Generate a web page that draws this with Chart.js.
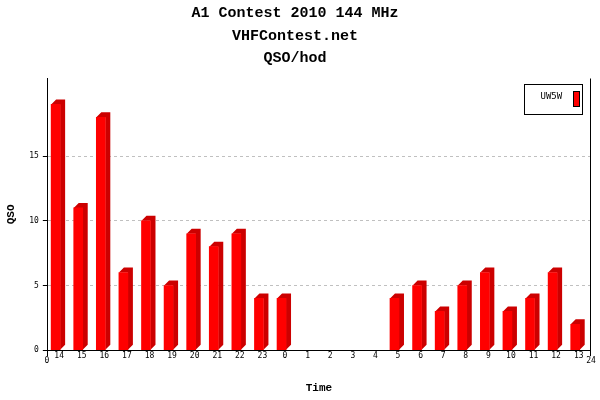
<!DOCTYPE html>
<html>
<head>
<meta charset="utf-8">
<script src="https://cdn.jsdelivr.net/npm/chart.js@4"></script>
<style>
  html, body { margin: 0; padding: 0; background: #fff; }
  #wrap { width: 600px; height: 400px; }
</style>
</head>
<body>
<div id="wrap"><canvas id="myChart" width="600" height="400"></canvas></div>
<script>
const titleLines = ['A1 Contest 2010 144 MHz', 'VHFContest.net', 'QSO/hod'];
const hours = ['14', '15', '16', '17', '18', '19', '20', '21', '22', '23', '0', '1',
               '2', '3', '4', '5', '6', '7', '8', '9', '10', '11', '12', '13'];
const qso = [19, 11, 18, 6, 10, 5, 9, 8, 9, 4, 4, 0, 0, 0, 0, 4, 5, 3, 5, 6, 3, 4, 6, 2];
const yTicks = [0, 5, 10, 15];
const edgeLabels = ['0', '24'];
const seriesName = 'UW5W';

const FONT = 'Liberation Mono';
const SMALL = 'DejaVu Sans Mono';
const frontColor = '#ff0000';
const sideColor = '#cc0000';
const depth = 5;
const shiftX = -3.5;

// side + top faces of the 3d bars, drawn behind the fronts
const bars3d = {
  id: 'bars3d',
  beforeDatasetsDraw(chart) {
    const ctx = chart.ctx;
    ctx.save();
    ctx.translate(shiftX, 0);
    chart.getDatasetMeta(0).data.forEach((bar, i) => {
      if (!qso[i]) return;
      const p = bar.getProps(['x', 'y', 'base', 'width'], true);
      const l = p.x - p.width / 2, r = p.x + p.width / 2;
      ctx.fillStyle = sideColor;
      ctx.beginPath();
      ctx.moveTo(l, p.y);
      ctx.lineTo(l + depth, p.y - depth);
      ctx.lineTo(r + depth, p.y - depth);
      ctx.lineTo(r + depth, p.base - depth);
      ctx.lineTo(r, p.base);
      ctx.lineTo(r, p.y);
      ctx.closePath();
      ctx.fill();
    });
  },
  afterDatasetsDraw(chart) {
    chart.ctx.restore();
  }
};

// right frame line, end labels of the time axis and the boxed legend
const frame = {
  id: 'frame',
  afterDraw(chart) {
    const ctx = chart.ctx;
    const a = chart.chartArea;
    ctx.save();
    ctx.strokeStyle = '#000';
    ctx.lineWidth = 1;
    ctx.beginPath();
    ctx.moveTo(Math.round(a.right) + 0.5, a.top);
    ctx.lineTo(Math.round(a.right) + 0.5, a.bottom + 6);
    ctx.moveTo(Math.round(a.left) - 0.5, a.bottom);
    ctx.lineTo(Math.round(a.left) - 0.5, a.bottom + 6);
    ctx.stroke();

    ctx.fillStyle = '#000';
    ctx.font = '8px "' + SMALL + '"';
    ctx.textAlign = 'center';
    ctx.textBaseline = 'middle';
    ctx.fillText(edgeLabels[0], a.left - 1, a.bottom + 11);
    ctx.fillText(edgeLabels[1], a.right + 1, a.bottom + 11);

    // legend
    const bx = Math.round(a.right) - 65.5, by = Math.round(a.top) + 5.5, bw = 58, bh = 30;
    ctx.fillStyle = '#fff';
    ctx.fillRect(bx, by, bw, bh);
    ctx.strokeRect(bx, by, bw, bh);
    ctx.fillStyle = '#000';
    ctx.font = '9px "' + SMALL + '"';
    ctx.textAlign = 'left';
    ctx.fillText(seriesName, bx + 16, by + 12);
    ctx.fillStyle = frontColor;
    ctx.fillRect(bx + 49, by + 7, 6, 15);
    ctx.strokeRect(bx + 49, by + 7, 6, 15);
    ctx.restore();
  }
};

const ctx = document.getElementById('myChart');
new Chart(ctx, {
  type: 'bar',
  data: {
    labels: hours,
    datasets: [{
      label: seriesName,
      data: qso,
      backgroundColor: (c) => c.raw ? frontColor : 'rgba(0,0,0,0)',
      borderWidth: 0,
      barThickness: 9
    }]
  },
  options: {
    responsive: false,
    animation: false,
    devicePixelRatio: 1,
    layout: { padding: { left: 0, right: 10, top: 0, bottom: 0 } },
    plugins: {
      legend: { display: false },
      tooltip: { enabled: false },
      title: {
        display: true,
        text: titleLines,
        color: '#000',
        font: { family: FONT, size: 15, weight: 'bold', lineHeight: 1.5 },
        padding: { top: 2, bottom: 9 }
      }
    },
    scales: {
      x: {
        grid: { display: false, drawTicks: false },
        border: { color: '#000', width: 1 },
        ticks: {
          color: '#000',
          font: { family: SMALL, size: 8 },
          padding: 1,
          maxRotation: 0,
          autoSkip: false
        },
        title: {
          display: true,
          text: 'Time',
          color: '#000',
          font: { family: FONT, size: 11, weight: 'bold' },
          padding: { top: 20, bottom: 5 }
        }
      },
      y: {
        min: 0,
        max: 21,
        afterBuildTicks: (scale) => { scale.ticks = yTicks.map(v => ({ value: v })); },
        grid: {
          color: (c) => (c.tick && c.tick.value === 0) ? 'rgba(0,0,0,0)' : '#c0c0c0',
          tickColor: '#000',
          tickLength: 5,
          tickBorderDash: []
        },
        border: { color: '#000', width: 1, dash: [3, 3] },
        ticks: {
          color: '#000',
          font: { family: SMALL, size: 8 },
          padding: 4
        },
        title: {
          display: true,
          text: 'QSO',
          color: '#000',
          font: { family: FONT, size: 11, weight: 'bold' },
          padding: { top: 5, bottom: 7 }
        }
      }
    }
  },
  plugins: [bars3d, frame]
});
</script>
</body>
</html>
